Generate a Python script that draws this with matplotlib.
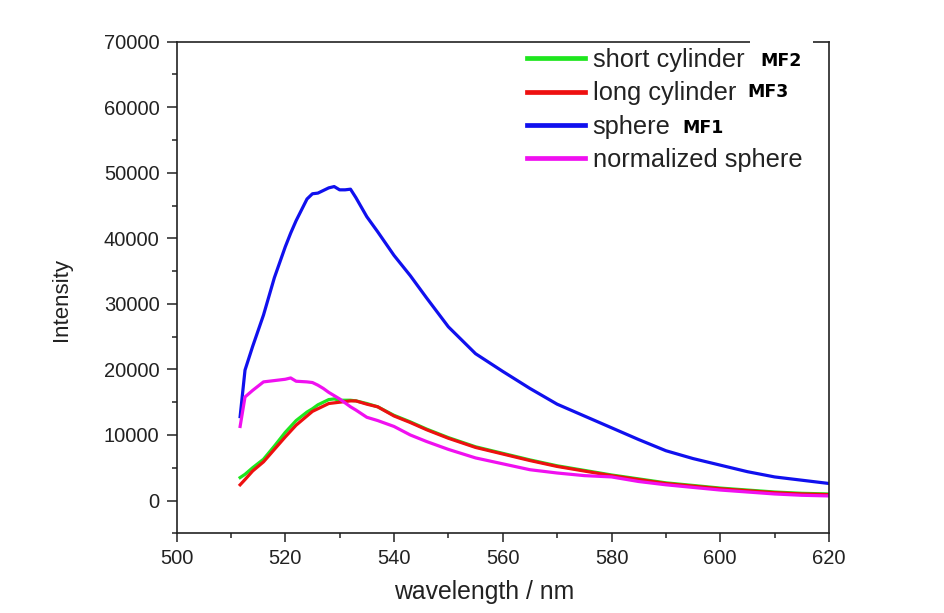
import matplotlib
matplotlib.use("Agg")
import matplotlib.pyplot as plt
from matplotlib.ticker import MultipleLocator
from matplotlib.patches import Rectangle

plt.rcParams['font.family'] = ['Liberation Sans', 'DejaVu Sans']

wavelength = [511.7, 512.6, 514, 516, 518, 520, 521, 522, 524, 525, 526, 527, 528, 529,
              530, 531, 532, 533, 535, 537, 540, 543, 546, 550, 555, 560, 565, 570, 575,
              580, 585, 590, 595, 600, 605, 610, 615, 620]

short_cylinder = [3500, 4000, 5000, 6300, 8300, 10400, 11300, 12200, 13500, 14000, 14600,
                  15000, 15400, 15500, 15300, 15300, 15300, 15200, 14800, 14300, 13000,
                  12000, 10900, 9600, 8200, 7200, 6200, 5300, 4600, 3900, 3300, 2700, 2300,
                  1900, 1600, 1300, 1100, 1000]

long_cylinder = [2400, 3200, 4500, 5900, 7800, 9700, 10600, 11500, 12900, 13600, 14000,
                 14400, 14800, 14900, 15000, 15100, 15200, 15200, 14700, 14300, 12900,
                 11900, 10800, 9500, 8100, 7100, 6100, 5200, 4500, 3800, 3200, 2600, 2200,
                 1800, 1500, 1200, 1000, 900]

sphere = [12800, 19900, 23500, 28300, 34000, 38700, 40800, 42700, 46000, 46800, 46900,
          47300, 47700, 47900, 47400, 47400, 47500, 46200, 43300, 41000, 37400, 34300,
          30900, 26500, 22400, 19700, 17100, 14700, 12900, 11100, 9300, 7600, 6400, 5400,
          4400, 3600, 3100, 2600]

normalized_sphere = [11300, 15800, 16800, 18100, 18300, 18500, 18700, 18200, 18100, 18000,
                     17600, 17100, 16500, 16000, 15500, 14900, 14300, 13800, 12700, 12200,
                     11300, 10000, 9000, 7800, 6500, 5600, 4700, 4200, 3800, 3600, 2900,
                     2400, 2000, 1600, 1300, 1000, 800, 700]

series_labels = ["short cylinder", "long cylinder", "sphere", "normalized sphere"]
sample_tags = ["MF2", "MF3", "MF1"]
x_label = "wavelength / nm"
y_label = "Intensity"

W, H = 945, 613
fig = plt.figure(figsize=(W / 100, H / 100), dpi=100)
ax = fig.add_axes([176.5 / W, 1 - 533.3 / H, (829 - 176.5) / W, (533.3 - 41.7) / H])

ink = '#222222'
lw = 2.3
ax.plot(wavelength, short_cylinder, color='#1ee61e', lw=lw, label=series_labels[0])
ax.plot(wavelength, long_cylinder, color='#ee1010', lw=lw, label=series_labels[1])
ax.plot(wavelength, sphere, color='#1010ee', lw=lw, label=series_labels[2])
ax.plot(wavelength, normalized_sphere, color='#f010f0', lw=lw, label=series_labels[3])

ax.set_xlim(500, 620)
ax.set_ylim(-5000, 70000)
ax.xaxis.set_major_locator(MultipleLocator(20))
ax.xaxis.set_minor_locator(MultipleLocator(10))
ax.yaxis.set_major_locator(MultipleLocator(10000))
ax.yaxis.set_minor_locator(MultipleLocator(5000))
ax.tick_params(which='major', direction='out', length=6.5, width=1.1, labelsize=14.5,
               pad=5, colors=ink)
ax.tick_params(axis='y', which='major', length=7.2)
ax.tick_params(which='minor', direction='out', length=3.6, width=1.1, colors=ink)
for s in ax.spines.values():
    s.set_linewidth(1.2)
    s.set_color(ink)

ax.set_xlabel(x_label, fontsize=17.8, color=ink)
ax.set_ylabel(y_label, fontsize=16, color=ink)
ax.xaxis.set_label_coords(0.471, -0.094)
ax.yaxis.set_label_coords(-0.160, 0.475)

leg = ax.legend(loc='upper left', bbox_to_anchor=(527 / W, 1 - 48 / H),
                bbox_transform=fig.transFigure, frameon=False, fontsize=18.3,
                handlelength=2.3, handletextpad=0.28, labelspacing=0.37,
                borderpad=0, borderaxespad=0)
for t in leg.get_texts():
    t.set_color(ink)
for h in leg.get_lines():
    h.set_linewidth(3.4)

# white patch that interrupts the top frame behind the first tag
fig.patches.append(Rectangle((750 / W, 1 - 52 / H), 63 / W, 16 / H, transform=fig.transFigure,
                             facecolor='white', edgecolor='none', zorder=5))

tag_pos = [(760 / W, 1 - 61 / H), (747 / W, 1 - 92 / H), (682 / W, 1 - 128 / H)]
for tag, (tx, ty) in zip(sample_tags, tag_pos):
    fig.text(tx, ty, tag, fontsize=12.5, fontweight='bold', ha='left', va='center',
             family=['DejaVu Sans'], color='black',
             bbox=dict(facecolor='white', edgecolor='none', pad=4), zorder=10)

fig.savefig("out.png", dpi=100)
